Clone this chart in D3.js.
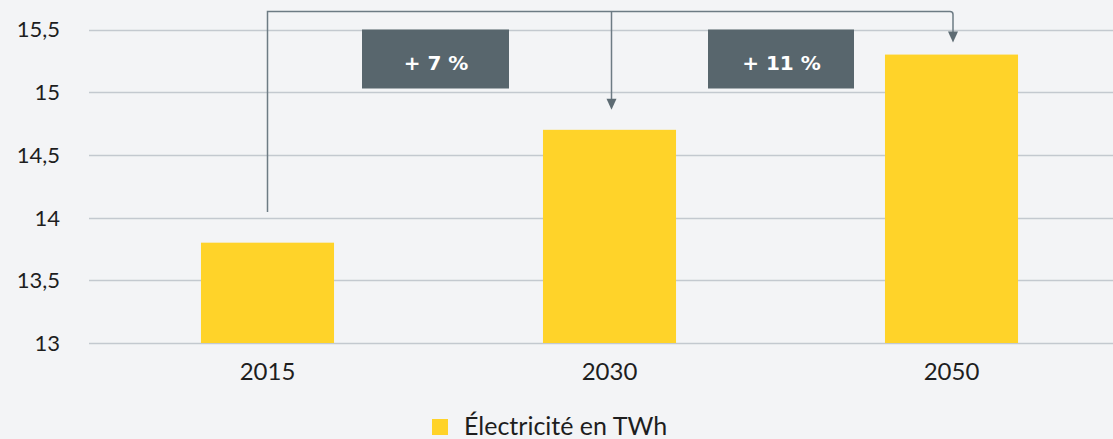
<!DOCTYPE html>
<html><head><meta charset="utf-8">
<script src="https://cdn.jsdelivr.net/npm/d3@7"></script>
<style>
html,body{margin:0;padding:0;background:#f3f4f6;}
svg{display:block;font-family:Lato,"Noto Sans",sans-serif;}
</style></head>
<body>
<script>
const categories = ["2015","2030","2050"];
const values = [13.8, 14.7, 15.3];
const yTicks = [13, 13.5, 14, 14.5, 15, 15.5];
const seriesName = "Électricité en TWh";
const changes = [{from:0,to:1,label:"+ 7 %"},{from:0,to:2,label:"+ 11 %"}];

const W = 1113, H = 439;
const svg = d3.select("body").append("svg").attr("width", W).attr("height", H);
svg.append("rect").attr("width", W).attr("height", H).attr("fill", "#f3f4f6");

const y = d3.scaleLinear().domain([13, 15.5]).range([343, 29.5]);
const x = d3.scaleBand().domain(categories).range([96.5, 1122.5]).paddingInner(0.611).paddingOuter(0.3055);
const fmt = d => String(d).replace(".", ",");

// grid
svg.append("g").selectAll("line").data(yTicks).join("line")
  .attr("x1", 89).attr("x2", W).attr("y1", d => Math.round(y(d)) + 0.5).attr("y2", d => Math.round(y(d)) + 0.5)
  .attr("stroke", "#c3c9cf").attr("stroke-width", 1.5);

// y labels
svg.append("g").selectAll("text").data(yTicks).join("text")
  .attr("x", 60).attr("y", d => y(d)).attr("dy", "0.36em").attr("text-anchor", "end")
  .attr("font-size", 22).attr("fill", "#1e1e1e").text(fmt);

// bars
svg.append("g").selectAll("rect").data(values).join("rect")
  .attr("x", (d, i) => x(categories[i])).attr("width", x.bandwidth())
  .attr("y", d => y(d)).attr("height", d => y(13) - y(d)).attr("fill", "#ffd329");

// x labels
svg.append("g").selectAll("text").data(categories).join("text")
  .attr("x", d => x(d) + x.bandwidth() / 2).attr("y", 380).attr("text-anchor", "middle")
  .attr("font-size", 24).attr("fill", "#1e1e1e").text(d => d);

// connectors
const cx = i => x(categories[i]) + x.bandwidth() / 2;
const topY = 11.5;
const lineCol = "#6d7b84";
const g = svg.append("g").attr("fill", "none").attr("stroke", lineCol).attr("stroke-width", 1.5);
g.append("path").attr("d", `M${cx(0)},${212} V${topY} H${cx(2) + 1.5 - 3} q3,0 3,3 V${y(values[2]) - 22}`);
g.append("path").attr("d", `M${cx(1) + 2},${topY} V${y(values[1]) - 30}`);
const arrow = (px, tip) => svg.append("path")
  .attr("d", `M${px - 5},${tip - 11} L${px + 5},${tip - 11} L${px},${tip} Z`).attr("fill", "#5d6b73");
arrow(cx(1) + 2, y(values[1]) - 20);
arrow(cx(2) + 1.5, y(values[2]) - 12);

// change boxes
const boxes = [[362, 509], [708, 854]];
changes.forEach((c, i) => {
  const [x0, x1] = boxes[i];
  svg.append("rect").attr("x", x0).attr("y", y(15.5)).attr("width", x1 - x0).attr("height", 59).attr("fill", "#58666d");
  svg.append("text").attr("x", (x0 + x1) / 2 + 0.5).attr("y", y(15.5) + 40.5)
    .attr("text-anchor", "middle").attr("font-size", 20).attr("font-weight", "bold")
    .attr("font-family", "'DejaVu Sans', sans-serif").attr("fill", "#ffffff").text(c.label);
});

// legend
svg.append("rect").attr("x", 432).attr("y", 419).attr("width", 16).attr("height", 16).attr("fill", "#ffd329");
svg.append("text").attr("x", 464).attr("y", 435).attr("font-size", 25).attr("fill", "#1e1e1e").text(seriesName);
</script>
</body></html>
